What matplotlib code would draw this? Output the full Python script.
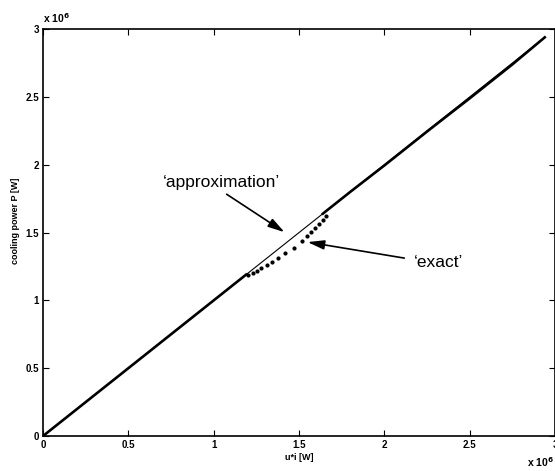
import numpy as np
from matplotlib import pyplot as plt
from matplotlib.ticker import FuncFormatter

# values (units of W)
approx_x = [0.0, 2.94e6]
approx_y = [0.0, 2.94e6]

low_x = [0.0, 0.25e6, 0.5e6, 0.75e6, 1.0e6, 1.1e6, 1.19e6]
low_y = [0.0, 0.25e6, 0.5e6, 0.75e6, 1.0e6, 1.10e6, 1.19e6]

exact_x = [1.20e6, 1.23e6, 1.255e6, 1.28e6, 1.31e6, 1.34e6, 1.375e6, 1.42e6, 1.47e6,
           1.515e6, 1.545e6, 1.57e6, 1.595e6, 1.615e6, 1.64e6, 1.66e6]
exact_y = [1.19e6, 1.205e6, 1.22e6, 1.24e6, 1.26e6, 1.28e6, 1.31e6, 1.35e6, 1.39e6,
           1.44e6, 1.475e6, 1.505e6, 1.535e6, 1.565e6, 1.595e6, 1.625e6]

high_x = [1.64e6, 1.8e6, 2.0e6, 2.26e6, 2.5e6, 2.75e6, 2.94e6]
high_y = [1.64e6, 1.80e6, 1.995e6, 2.255e6, 2.49e6, 2.74e6, 2.94e6]

xticks = [0, 0.5e6, 1e6, 1.5e6, 2e6, 2.5e6, 3e6]
yticks = [0, 0.5e6, 1e6, 1.5e6, 2e6, 2.5e6, 3e6]

plt.rcParams['font.family'] = ['Liberation Sans', 'DejaVu Sans']

fg = plt.figure(figsize=(5.55, 4.71), dpi=100)
ax = fg.add_axes([0.0775, 0.0743, 0.9225, 0.8637])

ax.plot(approx_x, approx_y, 'k-', lw=0.8)
ax.plot(low_x, low_y, 'k-', lw=1.9)
ax.plot(high_x, high_y, 'k-', lw=1.9)
ax.plot(exact_x, exact_y, 'k.', ms=4)

ax.set_xlim(0, 3e6)
ax.set_ylim(0, 3e6)
ax.set_xticks(xticks)
ax.set_yticks(yticks)
fmt = FuncFormatter(lambda v, p: '%g' % (v / 1e6))
ax.xaxis.set_major_formatter(fmt)
ax.yaxis.set_major_formatter(fmt)
ax.tick_params(direction='in', top=True, right=True, length=4, width=0.8,
               labelsize=7, pad=3)
for lbl in ax.get_xticklabels() + ax.get_yticklabels():
    lbl.set_fontweight('bold')
for s in ax.spines.values():
    s.set_linewidth(1.2)

ax.set_xlabel('u*i [W]', fontsize=6.5, fontweight='bold', labelpad=2)
ax.set_ylabel('cooling power P [W]', fontsize=6.5, fontweight='bold')
ax.yaxis.set_label_coords(-0.045, 0.53)

ax.text(0.0, 1.01, r'x 10$^{\mathbf{6}}$', transform=ax.transAxes, fontsize=7.5,
        fontweight='bold', ha='left', va='bottom')
fg.text(0.999, 0.018, r'x 10$^{\mathbf{6}}$', fontsize=7.5,
        fontweight='bold', ha='right', va='center')

arrow = dict(arrowstyle='-|>,head_length=1.0,head_width=0.28',
             color='k', lw=1.2, shrinkA=0, shrinkB=0)
ax.text(1.047e6, 1.872e6, "\u2018approximation\u2019", fontsize=12.5,
        ha='center', va='center')
ax.annotate('', xy=(1.415e6, 1.503e6), xytext=(1.076e6, 1.783e6), arrowprops=arrow)
ax.text(2.32e6, 1.282e6, "\u2018exact\u2019", fontsize=12.5, ha='center', va='center')
ax.annotate('', xy=(1.55e6, 1.43e6), xytext=(2.117e6, 1.312e6), arrowprops=arrow)

fg.savefig('out.png', dpi=100)
